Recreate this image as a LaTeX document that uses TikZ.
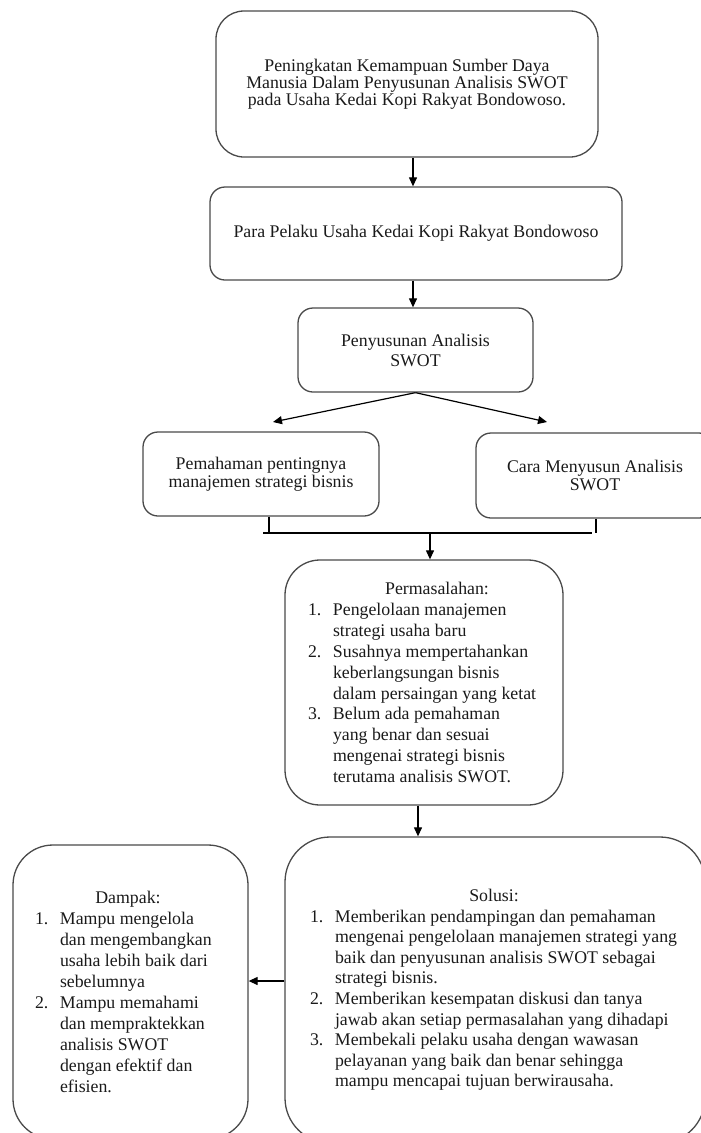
\documentclass[tikz,border=0pt]{standalone}
\usepackage{fontspec}
\setmainfont{Liberation Serif}
\usetikzlibrary{arrows.meta}

\definecolor{garis}{HTML}{4A4A4A}
\definecolor{tulisan}{HTML}{1A1A1A}

% butir daftar bernomor dengan indentasi gantung
\newcommand{\butir}[2]{\par\hangindent=25pt\hangafter=1\noindent\makebox[25pt][l]{#1}#2}
% judul daftar: #1 = dua kali jarak dari tepi kiri ke tengah judul
\newcommand{\judulbutir}[2]{\noindent\makebox[#1][c]{#2}\par}
\hfuzz=60pt
\hyphenpenalty=10000

\begin{document}
\begin{tikzpicture}[x=1pt,y=-1pt,
    kotak/.style={draw=garis, line width=1.3pt, rounded corners=#1, inner sep=0pt, text=tulisan},
    kotak/.default=15pt,
    teks/.style={align=center, font=\fontsize{17.8}{#1}\selectfont},
    teks/.default=20pt,
    panah/.style={-{Triangle[length=9pt,width=8pt]}, line width=1.2pt},
    sambung/.style={line width=1.2pt}]
    \useasboundingbox (0,0) rectangle (701,1133);
    \clip (0,0) rectangle (701,1133);

    % Kotak-kotak bagian atas:
    \node [kotak=28pt, teks=15.8pt, minimum width=382pt, minimum height=146pt] (judul) at (407,84)
        {Peningkatan Kemampuan Sumber Daya\\Manusia Dalam Penyusunan Analisis SWOT\\pada Usaha Kedai Kopi Rakyat Bondowoso.};
    \node [kotak, teks, minimum width=412pt, minimum height=93pt] (pelaku) at (416,233.5)
        {Para Pelaku Usaha Kedai Kopi Rakyat Bondowoso};
    \node [kotak, teks, minimum width=235pt, minimum height=84pt] (analisis) at (415.5,350)
        {Penyusunan Analisis\\SWOT};
    \node [kotak, teks=18pt, minimum width=236pt, minimum height=84pt] (pemahaman) at (261,474)
        {Pemahaman pentingnya\\manajemen strategi bisnis};
    \node [kotak, teks=18pt, minimum width=238pt, minimum height=85pt] (cara) at (595,475.5)
        {Cara Menyusun Analisis\\SWOT};

    % Kotak-kotak berisi daftar:
    \node [kotak=35pt, font=\fontsize{17.8}{20.9}\selectfont, minimum width=278pt, minimum height=245pt] (masalah) at (424,682.5)
        {\hspace*{8pt}\parbox{240pt}{\raggedright
            \judulbutir{258pt}{Permasalahan:}
            \butir{1.}{Pengelolaan manajemen\newline strategi usaha baru}
            \butir{2.}{Susahnya mempertahankan\newline keberlangsungan bisnis\newline dalam persaingan yang ketat}
            \butir{3.}{Belum ada pemahaman\newline yang benar dan sesuai\newline mengenai strategi bisnis\newline terutama analisis SWOT.}}};
    \node [kotak=45pt, font=\fontsize{17.8}{20.6}\selectfont, minimum width=420pt, minimum height=306pt] (solusi) at (495,990)
        {\hspace*{6pt}\parbox{376pt}{\raggedright
            \judulbutir{368pt}{Solusi:}
            \butir{1.}{Memberikan pendampingan dan pemahaman\newline mengenai pengelolaan manajemen strategi yang\newline baik dan penyusunan analisis SWOT sebagai\newline strategi bisnis.}
            \butir{2.}{Memberikan kesempatan diskusi dan tanya\newline jawab akan setiap permasalahan yang dihadapi}
            \butir{3.}{Membekali pelaku usaha dengan wawasan\newline pelayanan yang baik dan benar sehingga\newline mampu mencapai tujuan berwirausaha.}}};
    \node [kotak=40pt, font=\fontsize{17.8}{21}\selectfont, minimum width=235pt, minimum height=294pt] (dampak) at (130.5,992)
        {\parbox{186pt}{\raggedright
            \judulbutir{186pt}{Dampak:}
            \butir{1.}{Mampu mengelola\newline dan mengembangkan\newline usaha lebih baik dari\newline sebelumnya}
            \butir{2.}{Mampu memahami\newline dan mempraktekkan\newline analisis SWOT\newline dengan efektif dan\newline efisien.}}\hspace*{5pt}};

    % Panah:
    \coordinate (sumbu) at (413,0);
    \draw [panah] (judul.south -| sumbu) -- (pelaku.north -| sumbu);
    \draw [panah] (pelaku.south -| sumbu) -- (analisis.north -| sumbu);
    \coordinate (ujungkiri) at (273,422);
    \coordinate (ujungkanan) at (547,422);
    \draw [panah] (analisis.south) -- (ujungkiri);
    \draw [panah] (analisis.south) -- (ujungkanan);

    % Garis penggabung di bawah dua kotak:
    \coordinate (kakikiri) at (269,533);
    \coordinate (kakikanan) at (596,533);
    \coordinate (tengah) at (430,533);
    \draw [sambung] (pemahaman.south -| kakikiri) -- (kakikiri);
    \draw [sambung] (cara.south -| kakikanan) -- (kakikanan);
    \draw [sambung] ([xshift=-6pt]kakikiri) -- ([xshift=-4pt]kakikanan);
    \draw [panah] (tengah) -- (masalah.north -| tengah);

    \coordinate (turun) at (418,0);
    \draw [panah] (masalah.south -| turun) -- (solusi.north -| turun);
    \draw [panah] ([yshift=9pt]solusi.west) -- ([yshift=9pt]solusi.west -| dampak.east);
\end{tikzpicture}
\end{document}
